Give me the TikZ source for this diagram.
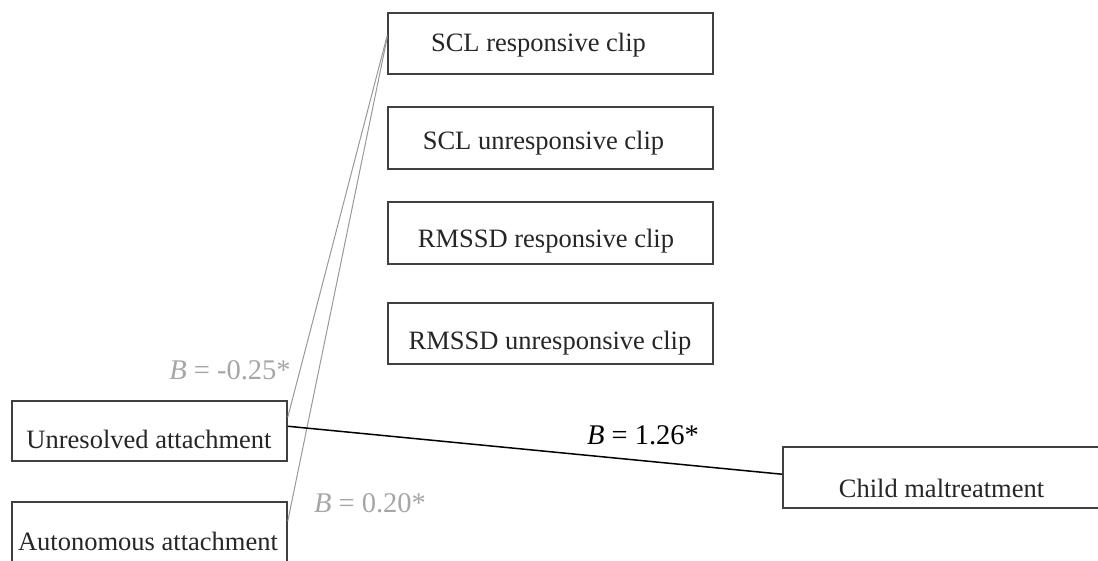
\documentclass[tikz,border=0pt]{standalone}
\usepackage{fontspec}
\setmainfont{Liberation Serif}
\begin{document}
\begin{tikzpicture}[x=1pt,y=-1pt,
  box/.style={draw=black!75, line width=1.5pt, rectangle, inner sep=0pt, fill=none},
  txt/.style={inner sep=0pt, anchor=base, font=\fontsize{26.5}{30}\selectfont, text=black!85},
  lab/.style={inner sep=0pt, anchor=base, font=\fontsize{28.5}{32}\selectfont},
  grayline/.style={draw=black!40, line width=1pt},
  blackline/.style={draw=black, line width=1.5pt}]
\clip (0,0) rectangle (1098,561);
\fill[white] (0,0) rectangle (1098,561);
% top column of boxes
\node[box, minimum width=325pt, minimum height=61pt] (scl1) at (550.5,43.5) {};
\node[box, minimum width=325pt, minimum height=62pt] (scl2) at (550.5,138) {};
\node[box, minimum width=325pt, minimum height=62pt] (rms1) at (550.5,233) {};
\node[box, minimum width=325pt, minimum height=61pt] (rms2) at (550.5,333.5) {};
\node[txt] (scl1t) at (538.5,52) {SCL responsive clip};
\node[txt] (scl2t) at (543.5,150) {SCL unresponsive clip};
\node[txt] (rms1t) at (546,248) {RMSSD responsive clip};
\node[txt] (rms2t) at (550,350) {RMSSD unresponsive clip};
% left boxes
\node[box, minimum width=275pt, minimum height=60pt] (unres) at (149.5,431) {};
\node[box, minimum width=275pt, minimum height=64pt] (auto) at (149.5,534) {};
\node[txt] (unrest) at (149,448) {Unresolved attachment};
\node[txt] (autot) at (148,550) {Autonomous attachment};
% outcome
\node[box, minimum width=330pt, minimum height=61pt] (child) at (948,477.5) {};
\node[txt] (childt) at (941.5,497) {Child maltreatment};
% connectors
\draw[grayline] ([yshift=-17pt]unres.north east) -- ([yshift=-23pt]scl1.north west);
\draw[grayline] ([yshift=-20pt]auto.north east) -- ([yshift=-25pt]scl1.north west);
\draw[blackline] ([yshift=-26pt]unres.north east) -- ([yshift=-28pt]child.north west);
% labels
\node[lab, text=black!35] (l1) at (230,379) {\textit{B} = -0.25*};
\node[lab, text=black!35] (l2) at (370,512) {\textit{B} = 0.20*};
\node[lab, text=black] (l3) at (643,444) {\textit{B} = 1.26*};
\end{tikzpicture}
\end{document}
